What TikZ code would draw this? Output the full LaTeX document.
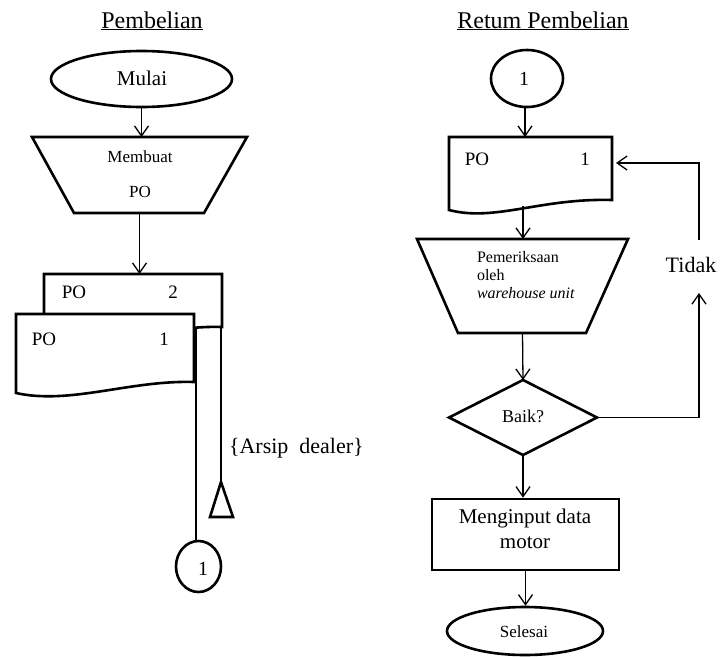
\documentclass[tikz,border=0pt]{standalone}
\usepackage{fontspec}
\setmainfont{Liberation Serif}
\usetikzlibrary{shapes.geometric,arrows.meta,calc}
\begin{document}
\begin{tikzpicture}[x=1pt,y=-1pt,
  box/.style={draw,line width=2.6pt,fill=white,inner sep=0pt},
  outline/.style={line width=2.6pt,fill=white,line join=miter},
  hidden/.style={inner sep=0pt,outer sep=0pt},
  conn/.style={line width=1.3pt,-{Straight Barb[length=10pt,width=14pt,line width=1.3pt]}},
  wire/.style={line width=1.3pt},
  txt/.style={inner sep=0pt,outer sep=0pt},
  fs/.style={font=\fontsize{#1}{#1}\selectfont},
]
\useasboundingbox (0,0) rectangle (720,656);

% titles
\node[txt,anchor=base,fs=24] (t1) at (152,28) {\underline{Pembelian}};
\node[txt,anchor=base,fs=24] (t2) at (543,28) {\underline{Retum Pembelian}};

% ---------------- left column ----------------
\node[box,ellipse,minimum width=181pt,minimum height=56pt] (mulai) at (141.5,79) {};
\node[txt,anchor=base,fs=21] (mulaitx) at (142,85) {Mulai};

\node[hidden,minimum width=215pt,minimum height=76pt] (buat) at (139.5,175) {};
\draw[outline] (buat.north west) -- (buat.north east) -- (204,213) -- (74,213) -- cycle;
\node[txt,anchor=north,align=center,font=\fontsize{17}{35}\selectfont] (buattx) at (140,150.4) {Membuat\\PO};

% documents PO 2 (back) and PO 1 (front)
\node[hidden,minimum width=178pt,minimum height=63pt] (po2) at (133,305.5) {};
\draw[outline] (po2.north west) -- (po2.north east) -- (222,327)
   .. controls (170,325) and (95,347) .. (po2.south west) -- cycle;
\node[txt,anchor=base,fs=19] (po2a) at (74,298) {PO};
\node[txt,anchor=base,fs=19] (po2b) at (173,298) {2};

\node[hidden,minimum width=178pt,minimum height=79pt] (po1) at (105,353.5) {};
\draw[outline] (po1.north west) -- (po1.north east) -- (194,382)
   .. controls (130,380) and (70,405) .. (po1.south west) -- cycle;
\node[txt,anchor=base,fs=19] (po1a) at (44,345) {PO};
\node[txt,anchor=base,fs=19] (po1b) at (164,345) {1};

\draw[conn] (mulai.south) -- (mulai.south |- buat.north);
\draw[conn] (buat.south) -- (buat.south |- po2.north);

% connector circle 1 and archive triangle
\node[box,ellipse,minimum width=45pt,minimum height=51pt] (c1) at (198.5,566.5) {};
\node[txt,anchor=base,fs=20] (c1tx) at (203,575) {1};

\coordinate (w1) at (196,328);
\coordinate (w2) at (221,328);
\coordinate (tri) at (221,482);
\draw[outline] (tri) -- (233,517) -- (210,517) -- cycle;
\draw[wire] (w1) -- (w1 |- c1.north);
\draw[wire] (w2) -- (tri);
\node[txt,anchor=base west,fs=22] (arsip) at (229,453) {\{Arsip\hspace{0.5em}dealer\}};

% ---------------- right column ----------------
\node[box,ellipse,minimum width=72pt,minimum height=57pt] (c1r) at (527,78.5) {};
\node[txt,anchor=base,fs=20] (c1rtx) at (524,85) {1};

\node[hidden,minimum width=163pt,minimum height=73pt] (docr) at (530.5,173.5) {};
\draw[outline] (docr.north west) -- (docr.north east) -- (612,200)
   .. controls (540,198) and (495,222) .. (docr.south west) -- cycle;
\node[txt,anchor=base,fs=19] (docra) at (477,165) {PO};
\node[txt,anchor=base,fs=19] (docrb) at (585,165) {1};

\node[hidden,minimum width=211pt,minimum height=94pt] (periksa) at (522.5,286) {};
\draw[outline] (periksa.north west) -- (periksa.north east) -- (586,333) -- (458,333) -- cycle;
\node[txt,anchor=north west,align=left,font=\fontsize{16}{18}\selectfont] (periksatx) at (477,251.1)
   {Pemeriksaan\\oleh\\\textit{warehouse unit}};

\node[hidden,minimum width=148pt,minimum height=75pt] (baik) at (523,417.5) {};
\draw[outline] (baik.west) -- (baik.north) -- (baik.east) -- (baik.south) -- cycle;
\node[txt,anchor=base,fs=18] (baiktx) at (523,422) {Baik?};

\node[box,rectangle,minimum width=187pt,minimum height=71pt] (input) at (525.5,534.5) {};
\node[txt,anchor=north,align=center,font=\fontsize{21}{25}\selectfont] (inputtx) at (525,509)
   {Menginput data\\motor};

\node[box,ellipse,minimum width=156pt,minimum height=48pt] (selesai) at (525,631) {};
\node[txt,anchor=base,fs=17] (selesaitx) at (524,637) {Selesai};

\coordinate (c1rout) at (525,107);
\coordinate (docrout) at (523,206);
\draw[conn] (c1rout) -- (c1rout |- docr.north);
\draw[conn] (docrout) -- (docrout |- periksa.north);
\draw[conn] (periksa.south) -- (baik.north);
\draw[conn] (baik.south) -- (baik.south |- input.north);
\draw[conn] (input.south) -- (input.south |- selesai.north);

% feedback loop
\node[txt,anchor=base,fs=22] (tidak) at (691,272) {Tidak};
\coordinate (tidakbot) at (699,293);
\coordinate (tidaktop) at (699,240);
\coordinate (fbin) at (616,163);
\draw[conn] (baik.east) -| (tidakbot);
\draw[conn] (tidaktop) |- (fbin);
\end{tikzpicture}
\end{document}
